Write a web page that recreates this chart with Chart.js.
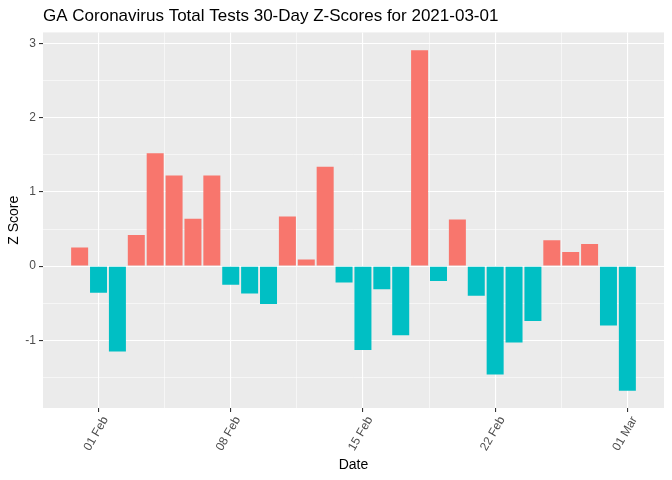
<!DOCTYPE html>
<html>
<head>
<meta charset="utf-8">
<script src="https://cdn.jsdelivr.net/npm/chart.js@4"></script>
<style>
  body { margin: 0; background: #fff; }
  #wrap { width: 672px; height: 480px; }
</style>
</head>
<body>
<div id="wrap"><canvas id="myChart"></canvas></div>
<script>
// one bar per day, 2021-01-31 .. 2021-03-01
const dates = ['2021-01-31', '2021-02-01', '2021-02-02', '2021-02-03', '2021-02-04', '2021-02-05',
    '2021-02-06', '2021-02-07', '2021-02-08', '2021-02-09', '2021-02-10', '2021-02-11',
    '2021-02-12', '2021-02-13', '2021-02-14', '2021-02-15', '2021-02-16', '2021-02-17',
    '2021-02-18', '2021-02-19', '2021-02-20', '2021-02-21', '2021-02-22', '2021-02-23',
    '2021-02-24', '2021-02-25', '2021-02-26', '2021-02-27', '2021-02-28', '2021-03-01']
const zScores = [0.25, -0.36, -1.15, 0.42, 1.52, 1.22,
    0.64, 1.22, -0.25, -0.37, -0.51, 0.67,
    0.09, 1.34, -0.22, -1.13, -0.31, -0.93,
    2.91, -0.2, 0.63, -0.4, -1.46, -1.03,
    -0.74, 0.35, 0.19, 0.3, -0.8, -1.68]
const tickDates = ['2021-02-01', '2021-02-08', '2021-02-15', '2021-02-22', '2021-03-01']
const tickLabels = ['01 Feb', '08 Feb', '15 Feb', '22 Feb', '01 Mar']
const yTicks = [-1, 0, 1, 2, 3]

const red = '#F8766D'
const teal = '#00BFC4'

const points = dates.map((d, i) => ({ x: i, y: zScores[i] }))
const majorX = tickDates.map(d => dates.indexOf(d))
const minorX = majorX.slice(0, -1).map(v => v + 3.5)

const panelBg = {
    id: 'panelBg',
    beforeDraw(chart) {
        const { ctx, chartArea: a } = chart
        ctx.save()
        ctx.fillStyle = '#EBEBEB'
        ctx.fillRect(a.left, a.top, a.right - a.left, a.bottom - a.top)
        ctx.restore()
    }
}

const tickVal = c => c.tick ? c.tick.value : NaN
const isMajorX = v => majorX.includes(v)
const isMajorY = v => yTicks.includes(v)

const ctx = document.getElementById('myChart').getContext('2d')
new Chart(ctx, {
    type: 'bar',
    data: {
        datasets: [{
            data: points,
            backgroundColor: zScores.map(v => v >= 0 ? red : teal),
            categoryPercentage: 1,
            barPercentage: 0.9,
            borderWidth: 0
        }]
    },
    options: {
        responsive: true,
        maintainAspectRatio: false,
        animation: false,
        layout: { padding: { left: 4, right: 8, top: 4, bottom: 6 } },
        plugins: {
            legend: { display: false },
            tooltip: { enabled: false },
            title: {
                display: true,
                text: 'GA Coronavirus Total Tests 30-Day Z-Scores for 2021-03-01',
                align: 'start',
                fullSize: false,
                color: '#000',
                font: { family: 'Liberation Sans', size: 17, weight: 'normal' },
                padding: { top: 2, bottom: 6 }
            }
        },
        scales: {
            x: {
                type: 'linear',
                offset: false,
                min: -1.94,
                max: 30.94,
                afterBuildTicks: s => {
                    s.ticks = majorX.concat(minorX).sort((a, b) => a - b).map(v => ({ value: v }))
                },
                afterFit: s => { s.height = 66 },
                ticks: {
                    autoSkip: false,
                    maxRotation: 60,
                    minRotation: 60,
                    color: '#4D4D4D',
                    padding: 2,
                    labelOffset: 7,
                    font: { family: 'Liberation Sans', size: 12 },
                    callback: v => isMajorX(v) ? tickLabels[majorX.indexOf(v)] : ''
                },
                grid: {
                    offset: false,
                    color: '#FFFFFF',
                    lineWidth: c => isMajorX(tickVal(c)) ? 1.1 : 0.55,
                    tickColor: c => isMajorX(tickVal(c)) ? '#333333' : 'rgba(0,0,0,0)',
                    tickLength: 4,
                    tickWidth: 1.1
                },
                border: { display: false },
                title: {
                    display: true,
                    text: 'Date',
                    color: '#000',
                    font: { family: 'Liberation Sans', size: 14 },
                    padding: { top: 2, bottom: 0 }
                }
            },
            y: {
                min: -1.911,
                max: 3.149,
                afterBuildTicks: s => {
                    const t = []
                    for (let v = -1.5; v <= 3; v += 0.5) t.push({ value: v })
                    s.ticks = t
                },
                afterFit: s => { s.width = 39 },
                ticks: {
                    color: '#4D4D4D',
                    padding: 3,
                    font: { family: 'Liberation Sans', size: 12 },
                    callback: v => yTicks.includes(v) ? String(v) : ''
                },
                grid: {
                    color: '#FFFFFF',
                    lineWidth: c => isMajorY(tickVal(c)) ? 1.1 : 0.55,
                    tickColor: c => isMajorY(tickVal(c)) ? '#333333' : 'rgba(0,0,0,0)',
                    tickLength: 4,
                    tickWidth: 1.1
                },
                border: { display: false },
                title: {
                    display: true,
                    text: 'Z Score',
                    color: '#000',
                    font: { family: 'Liberation Sans', size: 14 },
                    padding: { top: 2, bottom: 0 }
                }
            }
        }
    },
    plugins: [panelBg]
})
</script>
</body>
</html>
